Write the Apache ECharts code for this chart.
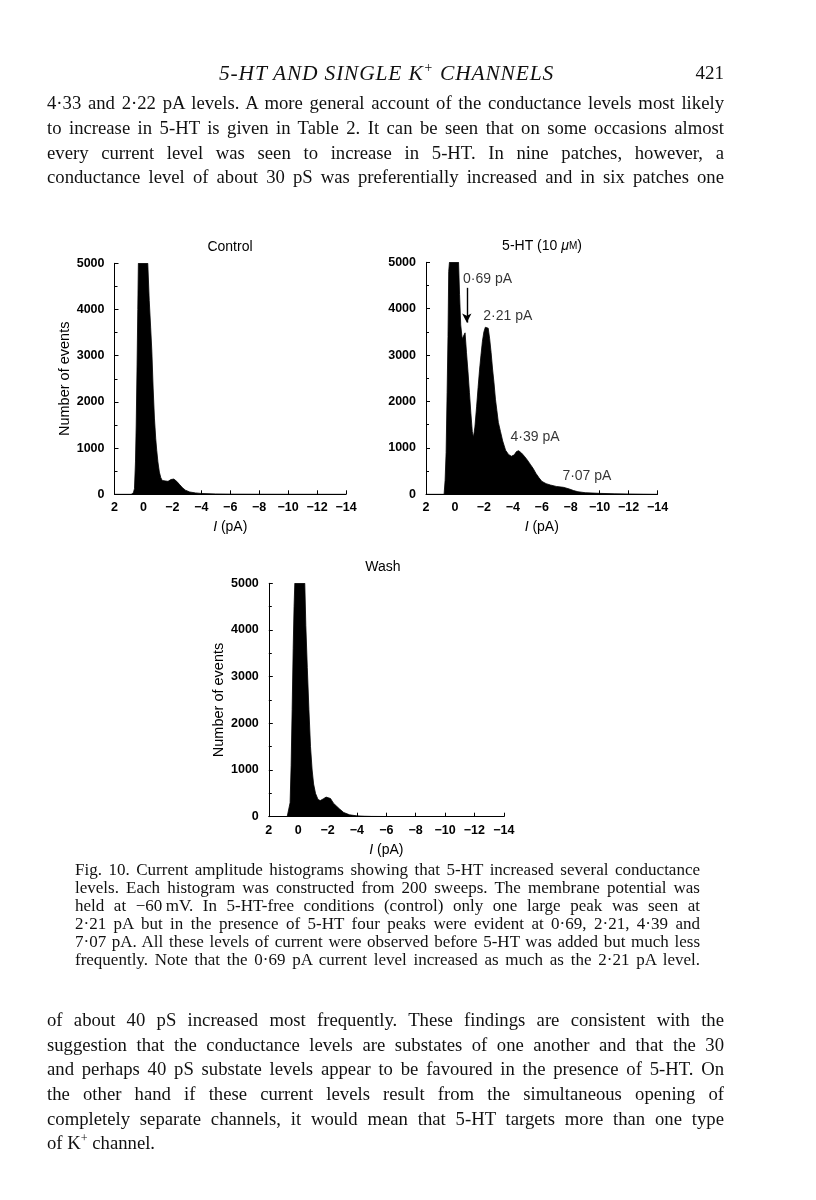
<!DOCTYPE html>
<html>
<head>
<meta charset="utf-8">
<script src="https://cdn.jsdelivr.net/npm/echarts@6/dist/echarts.min.js"></script>
<style>
  html, body { margin:0; padding:0; background:#fff; }
  #page { position:relative; width:816px; height:1200px; overflow:hidden; }
  #chart { position:absolute; left:0; top:0; width:816px; height:1200px; }
  .ln { position:absolute; white-space:nowrap; color:#111; font-family:"Liberation Serif","DejaVu Serif",serif; text-align:justify; text-align-last:justify; }
  .body { left:47px; width:677px; font-size:18.7px; height:24px; line-height:24px; }
  .cap { left:75px; width:625px; font-size:17px; height:18px; line-height:18px; }
  .last { text-align-last:left; }
  sup { font-size:0.65em; line-height:0; }
</style>
</head>
<body>
<div id="page">
  <div id="chart"></div>
  <div id="text"></div>
</div>
<script>
// ---------- data ----------
// Control histogram: current I (pA) vs number of events
const controlI = [2, 0.85, 0.7, 0.62, 0.55, 0.5, 0.44, 0.39, 0.35, -0.3, -0.4, -0.5, -0.58, -0.67, -0.76, -0.85, -0.92, -1.0, -1.1, -1.2, -1.3, -1.5, -1.7, -1.9, -2.1, -2.3, -2.5, -2.7, -2.9, -3.2, -3.6, -4, -5, -6, -8, -10, -14];
const controlN = [0, 0, 30, 120, 700, 1500, 2800, 4000, 5000, 5000, 4200, 3600, 3100, 2300, 1650, 1200, 950, 700, 480, 360, 300, 290, 280, 320, 330, 280, 210, 140, 90, 50, 30, 18, 8, 4, 2, 1, 0];

// 5-HT (10 uM) histogram
const htI = [2, 0.75, 0.68, 0.61, 0.54, 0.48, 0.43, 0.38, -0.25, -0.32, -0.4, -0.5, -0.6, -0.7, -0.8, -0.9, -1.0, -1.1, -1.2, -1.28, -1.38, -1.5, -1.6, -1.7, -1.8, -1.9, -2.0, -2.1, -2.2, -2.3, -2.4, -2.5, -2.6, -2.7, -2.8, -2.9, -3.0, -3.15, -3.3, -3.5, -3.7, -3.9, -4.1, -4.25, -4.4, -4.6, -4.8, -5.0, -5.2, -5.4, -5.6, -5.8, -6.0, -6.3, -6.6, -7.0, -7.5, -7.9, -8.2, -8.5, -9.0, -10, -11, -12, -13, -14];
const htN = [0, 0, 300, 900, 2200, 3400, 4800, 5000, 5000, 4300, 3650, 3350, 3380, 3480, 3050, 2650, 2200, 1750, 1350, 1230, 1450, 1900, 2300, 2680, 3000, 3300, 3500, 3600, 3610, 3580, 3350, 3050, 2700, 2400, 2050, 1800, 1550, 1350, 1150, 950, 860, 820, 850, 920, 940, 890, 820, 740, 650, 560, 450, 360, 280, 230, 200, 170, 150, 115, 80, 55, 35, 20, 12, 7, 3, 0];

// Wash histogram
const washI = [2, 0.75, 0.62, 0.55, 0.48, 0.41, 0.34, 0.28, 0.23, -0.45, -0.52, -0.62, -0.73, -0.84, -0.95, -1.05, -1.18, -1.35, -1.5, -1.7, -1.9, -2.0, -2.2, -2.4, -2.6, -2.8, -3.1, -3.5, -4.0, -4.5, -5, -6, -8, -10, -14];
const washN = [0, 0, 40, 300, 1100, 2300, 3600, 4500, 5000, 5000, 4100, 3200, 2300, 1500, 1000, 700, 500, 370, 345, 380, 420, 430, 390, 290, 230, 170, 90, 40, 18, 10, 6, 4, 2, 1, 0];

// peak annotations on the 5-HT panel
const annotText = ['0·69 pA', '2·21 pA', '4·39 pA', '7·07 pA'];
const annotI = [-2.25, -3.65, -5.54, -9.12];
const annotN = [4640, 3843, 1235, 394];
// arrow pointing at 0.69 pA level
const arrowI = -0.82;
const arrowFrom = 4450, arrowTo = 3700;

// axis ticks
const xMin = -14, xMax = 2, xStep = 2;
const yMin = 0, yMax = 5000, yStep = 1000;

// ---------- page text ----------
const headerText = '5-HT AND SINGLE K<sup>+</sup> CHANNELS';
const pageNo = '421';
const para1 = [
  '4·33 and 2·22 pA levels. A more general account of the conductance levels most likely',
  'to increase in 5-HT is given in Table 2. It can be seen that on some occasions almost',
  'every current level was seen to increase in 5-HT. In nine patches, however, a',
  'conductance level of about 30 pS was preferentially increased and in six patches one'
];
const caption = [
  'Fig. 10. Current amplitude histograms showing that 5-HT increased several conductance',
  'levels. Each histogram was constructed from 200 sweeps. The membrane potential was',
  'held at \u221260\u2009mV. In 5-HT-free conditions (control) only one large peak was seen at',
  '2·21 pA but in the presence of 5-HT four peaks were evident at 0·69, 2·21, 4·39 and',
  '7·07 pA. All these levels of current were observed before 5-HT was added but much less',
  'frequently. Note that the 0·69 pA current level increased as much as the 2·21 pA level.'
];
const para2 = [
  'of about 40 pS increased most frequently. These findings are consistent with the',
  'suggestion that the conductance levels are substates of one another and that the 30',
  'and perhaps 40 pS substate levels appear to be favoured in the presence of 5-HT. On',
  'the other hand if these current levels result from the simultaneous opening of',
  'completely separate channels, it would mean that 5-HT targets more than one type',
  'of K<sup>+</sup> channel.'
];

(function buildText(){
  const t = document.getElementById('text');
  let html = '';
  html += '<div class="ln" style="left:0;width:773px;top:61px;font-size:21.5px;letter-spacing:0.8px;font-style:italic;text-align:center;text-align-last:center;line-height:24px;">' + headerText + '</div>';
  html += '<div class="ln" style="left:690px;width:34px;top:61px;font-size:19px;text-align:right;text-align-last:right;line-height:24px;">' + pageNo + '</div>';
  const p1y = [103, 128, 153, 177];
  para1.forEach((s, i) => { html += '<div class="ln body" style="top:' + (p1y[i] - 12) + 'px">' + s + '</div>'; });
  const cy = [870, 888, 906, 924, 942, 960];
  caption.forEach((s, i) => { html += '<div class="ln cap" style="top:' + (cy[i] - 9) + 'px">' + s + '</div>'; });
  const p2y = [1020, 1045, 1069, 1094, 1119, 1143];
  para2.forEach((s, i) => { html += '<div class="ln body' + (i === para2.length - 1 ? ' last' : '') + '" style="top:' + (p2y[i] - 12) + 'px">' + s + '</div>'; });
  t.innerHTML = html;
})();

// ---------- chart ----------
const FONT = '"Liberation Sans", Arial, sans-serif';
const INK = '#000';
const zip = (a, b) => a.map((v, i) => [v, b[i]]);
const minusFmt = v => (v < 0 ? '\u2212' + (-v) : String(v));

const grids = [
  { left: 114.5, top: 263.3, width: 231.5, height: 231 },
  { left: 426, top: 262.3, width: 231.5, height: 232 },
  { left: 268.8, top: 583.3, width: 235, height: 233.4 }
];

function xAxisOf(i) {
  return {
    type: 'value', gridIndex: i, min: xMin, max: xMax, interval: xStep, inverse: true,
    axisLine: { show: true, onZero: false, lineStyle: { color: INK, width: 1 } },
    axisTick: { show: true, inside: true, length: 4, lineStyle: { color: INK } },
    splitLine: { show: false },
    axisLabel: { formatter: minusFmt, color: INK, fontFamily: FONT, fontSize: 12.5, fontWeight: 'bold', margin: 7 },
    name: '{i|I} (pA)', nameLocation: 'middle', nameGap: 26,
    nameTextStyle: { color: INK, fontFamily: FONT, fontSize: 14,
      rich: { i: { fontStyle: 'italic', fontFamily: FONT, fontSize: 14, color: INK } } }
  };
}
function yAxisOf(i, withName) {
  return {
    type: 'value', gridIndex: i, min: yMin, max: yMax, interval: yStep,
    axisLine: { show: true, onZero: false, lineStyle: { color: INK, width: 1 } },
    axisTick: { show: true, inside: true, length: 4, lineStyle: { color: INK } },
    minorTick: { show: true, splitNumber: 2, length: 3, lineStyle: { color: INK } },
    splitLine: { show: false },
    axisLabel: { formatter: v => String(v), color: INK, fontFamily: FONT, fontSize: 12.5, fontWeight: 'bold', margin: 10 },
    name: withName ? 'Number of events' : '', nameLocation: 'middle', nameGap: 42,
    nameTextStyle: { color: INK, fontFamily: FONT, fontSize: 14.5 }
  };
}
function histSeries(i, data) {
  return {
    type: 'line', xAxisIndex: i, yAxisIndex: i, data: data,
    symbol: 'none', smooth: false, clip: true,
    lineStyle: { color: INK, width: 0.8 },
    areaStyle: { color: INK, opacity: 1 },
    silent: true
  };
}

const chart = echarts.init(document.getElementById('chart'), null, { renderer: 'canvas' });
const htSeries = histSeries(1, zip(htI, htN));
htSeries.markLine = {
  silent: true, symbol: ['none', 'arrow'], symbolSize: [7, 9], precision: 2,
  lineStyle: { color: INK, width: 1.4, type: 'solid' }, label: { show: false },
  data: [[{ coord: [arrowI, arrowFrom] }, { coord: [arrowI, arrowTo] }]]
};

chart.setOption({
  animation: false,
  backgroundColor: 'transparent',
  grid: grids,
  xAxis: [xAxisOf(0), xAxisOf(1), xAxisOf(2)],
  yAxis: [yAxisOf(0, true), yAxisOf(1, false), yAxisOf(2, true)],
  series: [
    histSeries(0, zip(controlI, controlN)),
    htSeries,
    histSeries(2, zip(washI, washN)),
    {
      type: 'scatter', xAxisIndex: 1, yAxisIndex: 1, silent: true,
      symbolSize: 1, itemStyle: { color: 'rgba(0,0,0,0)' },
      data: annotI.map((x, k) => ({ value: [x, annotN[k]], name: annotText[k] })),
      label: { show: true, position: 'inside', formatter: p => p.name,
        color: INK, fontFamily: FONT, fontSize: 14 }
    }
  ],
  graphic: [
    { type: 'text', x: 230, y: 247, style: { text: 'Control', textAlign: 'center', textVerticalAlign: 'middle', fill: INK, font: '14px ' + FONT } },
    { type: 'text', x: 542, y: 246, style: {
        text: '5-HT (10 {i|\u03bc}{s|M})', textAlign: 'center', textVerticalAlign: 'middle', fill: INK, font: '14px ' + FONT,
        rich: { i: { fontStyle: 'italic', fontSize: 14, fontFamily: FONT, fill: INK }, s: { fontSize: 10, fontFamily: FONT, fill: INK } } } },
    { type: 'text', x: 383, y: 567, style: { text: 'Wash', textAlign: 'center', textVerticalAlign: 'middle', fill: INK, font: '14px ' + FONT } }
  ]
});
</script>
</body>
</html>
